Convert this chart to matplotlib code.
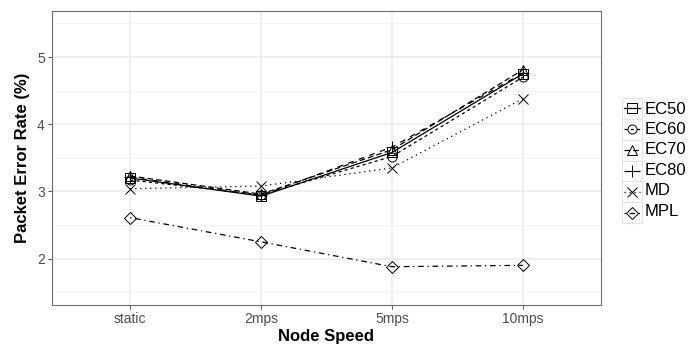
import numpy as np
import matplotlib
matplotlib.use('Agg')
import matplotlib.pyplot as plt
from matplotlib.patches import Rectangle
from matplotlib.ticker import MultipleLocator

plt.rcParams['font.family'] = ['Liberation Sans', 'DejaVu Sans']

# data
speeds = ['static', '2mps', '5mps', '10mps']
ec50 = [3.20, 2.93, 3.58, 4.75]
ec60 = [3.17, 2.95, 3.52, 4.70]
ec70 = [3.23, 2.96, 3.62, 4.81]
ec80 = [3.21, 2.94, 3.66, 4.76]
md = [3.04, 3.08, 3.35, 4.38]
mpl_ = [2.61, 2.25, 1.88, 1.90]

names = ['EC50', 'EC60', 'EC70', 'EC80', 'MD', 'MPL']
series = [ec50, ec60, ec70, ec80, md, mpl_]
markers = ['s', 'o', '^', '+', 'x', 'D']
msizes = [6.5, 6.5, 7, 8, 7, 6]
styles = ['-', (0, (2.5, 2.5)), (0, (4.5, 2.5)), (0, (4.5, 4.5)),
          (0, (1, 3)), (0, (1, 3, 4.5, 3))]

fig = plt.figure(figsize=(6.96, 3.44), dpi=100)
ax = fig.add_axes([51.7 / 696, 39 / 344, 549.6 / 696, 294.3 / 344])

x = np.arange(1, len(speeds) + 1)
for vals, mk, ms, ls in zip(series, markers, msizes, styles):
    ax.plot(x, vals, color='black', lw=0.9, linestyle=ls, marker=mk,
            ms=ms, mfc='none', mec='black', mew=0.7, zorder=3)

ax.set_xlim(0.4, 4.6)
ax.set_ylim(1.31, 5.69)
ax.set_xticks(x)
ax.set_xticklabels(speeds)
ax.yaxis.set_major_locator(MultipleLocator(1))
ax.yaxis.set_minor_locator(MultipleLocator(0.5))
ax.grid(True, which='major', color='#EBEBEB', lw=1.1, zorder=0)
ax.grid(True, which='minor', axis='y', color='#F2F2F2', lw=0.6, zorder=0)
ax.tick_params(which='major', length=3, width=0.7, color='#555555',
               labelcolor='#4D4D4D', labelsize=10, pad=2)
ax.tick_params(which='minor', length=0)
for sp in ax.spines.values():
    sp.set_color('#6E6E6E')
    sp.set_linewidth(0.8)

ax.set_xlabel('Node Speed', fontsize=12, fontweight='bold', labelpad=2.5)
ax.set_ylabel('Packet Error Rate (%)', fontsize=12, fontweight='bold', labelpad=5)

# legend drawn as ggplot-style key boxes
lax = fig.add_axes([622 / 696, (344 - 223) / 344, 19.7 / 696, 125 / 344])
lax.set_xlim(0, 1)
lax.set_ylim(len(names), 0)
lax.axis('off')
for i, (name, mk, ms, ls) in enumerate(zip(names, markers, msizes, styles)):
    lax.add_patch(Rectangle((0, i), 1, 1, facecolor='white', edgecolor='#E3E3E3',
                            lw=0.8, clip_on=False))
    lax.plot([0.08, 0.92], [i + 0.5, i + 0.5], color='black', lw=0.9,
             linestyle=ls, clip_on=False)
    lax.plot([0.5], [i + 0.5], marker=mk, ms=ms, mfc='none', mec='black',
             mew=0.7, clip_on=False)
    fig.text(645 / 696, 1 - (109 + i * 20.4) / 344, name, fontsize=12,
             va='center', ha='left', color='black')

fig.savefig('out.png', dpi=100)
